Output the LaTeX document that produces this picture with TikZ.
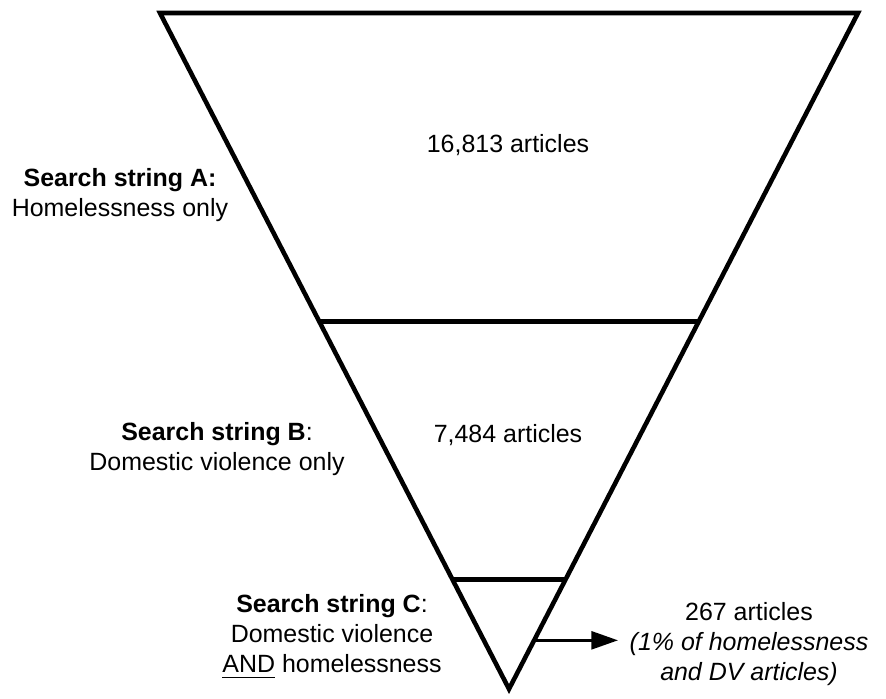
\documentclass[tikz,border=0pt]{standalone}
\usepackage{fontspec}
\setmainfont{Liberation Sans}
\usetikzlibrary{arrows.meta, calc}

\begin{document}
\begin{tikzpicture}[
    funnel/.style = {line width = 1.3pt},
    note/.style = {align = center, inner sep = 0pt, font = \fontsize{7.1}{8.5}\selectfont},
  ]
  \useasboundingbox (0, 0) rectangle (8.86, 6.98);
  \coordinate (tl) at (1.60, 6.85);
  \coordinate (tr) at (8.58, 6.85);
  \coordinate (apex) at (5.09, 0.09);
  \draw [funnel] (tl) -- (tr) -- (apex) -- cycle;
  % cuts between the search strings
  \coordinate (abl) at ($(tl)!0.456!(apex)$);
  \coordinate (abr) at ($(tr)!0.456!(apex)$);
  \coordinate (bcl) at ($(tl)!0.838!(apex)$);
  \coordinate (bcr) at ($(tr)!0.838!(apex)$);
  \draw [funnel] (abl) -- (abr);
  \draw [funnel] (bcl) -- (bcr);
  \node [note] (na) at (5.08, 5.53) {16,813 articles};
  \node [note] (nb) at (5.08, 2.63) {7,484 articles};
  \node [note] (sa) at (1.20, 5.03) {\textbf{Search string A:}\\Homelessness only};
  \node [note] (sb) at (2.17, 2.49) {\textbf{Search string B}:\\Domestic violence only};
  \node [note] (sc) at (3.32, 0.61) {\textbf{Search string C}:\\Domestic violence\\\underline{AND} homelessness};
  \node [note] (nc) at (7.49, 0.54) {267 articles\\\textit{(1\% of homelessness}\\\textit{and DV articles)}};
  \coordinate (arrstart) at ($(tr)!0.928!(apex)$);
  \coordinate (arrend) at (6.18, 0.57);
  \draw [line width = 0.85pt, -{Triangle[length = 7.6pt, width = 5.1pt]}] (arrstart) -- (arrstart -| arrend);
\end{tikzpicture}
\end{document}
